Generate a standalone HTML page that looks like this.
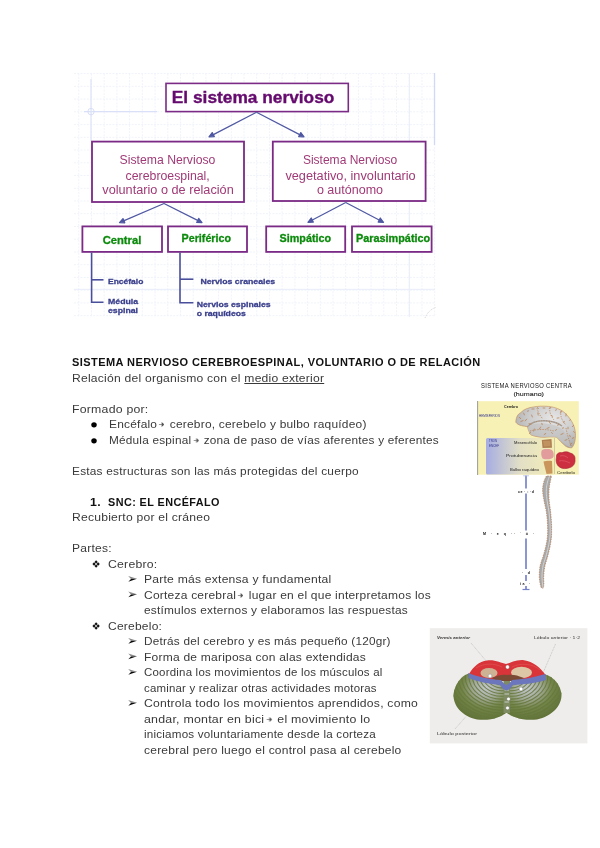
<!DOCTYPE html>
<html><head><meta charset="utf-8">
<style>
html,body{margin:0;padding:0;background:#fff;width:600px;height:848px;overflow:hidden;}
body{position:relative;font-family:"Liberation Sans",sans-serif;}
#diag{position:absolute;left:0;top:0;}
svg{will-change:transform;}
.txt{will-change:transform;position:absolute;left:0;top:355.2px;width:600px;color:#3a3a3a;font-size:11px;}
.ln{transform-origin:0 0;position:absolute;height:15.5px;line-height:15.5px;white-space:pre;}
.b{font-weight:bold;color:#111;}
.ar{display:inline-block;vertical-align:0px;margin-left:-1.5px;margin-right:1.5px;}
.u{text-decoration:underline;}
</style></head>
<body>
<svg id="diag" width="600" height="848" viewBox="0 0 600 848" font-family="Liberation Sans, sans-serif">
  <g id="grid" stroke="#f0f3fb" stroke-width="1" fill="none" stroke-dasharray="2 1.2">
<line x1="78.8" y1="73.6" x2="78.8" y2="317" />
<line x1="91.5" y1="73.6" x2="91.5" y2="317" />
<line x1="104.2" y1="73.6" x2="104.2" y2="317" />
<line x1="116.9" y1="73.6" x2="116.9" y2="317" />
<line x1="129.6" y1="73.6" x2="129.6" y2="317" />
<line x1="142.3" y1="73.6" x2="142.3" y2="317" />
<line x1="155.1" y1="73.6" x2="155.1" y2="317" />
<line x1="167.8" y1="73.6" x2="167.8" y2="317" />
<line x1="180.5" y1="73.6" x2="180.5" y2="317" />
<line x1="193.2" y1="73.6" x2="193.2" y2="317" />
<line x1="205.9" y1="73.6" x2="205.9" y2="317" />
<line x1="218.6" y1="73.6" x2="218.6" y2="317" />
<line x1="231.3" y1="73.6" x2="231.3" y2="317" />
<line x1="244.0" y1="73.6" x2="244.0" y2="317" />
<line x1="256.7" y1="73.6" x2="256.7" y2="317" />
<line x1="269.4" y1="73.6" x2="269.4" y2="317" />
<line x1="282.1" y1="73.6" x2="282.1" y2="317" />
<line x1="294.9" y1="73.6" x2="294.9" y2="317" />
<line x1="307.6" y1="73.6" x2="307.6" y2="317" />
<line x1="320.3" y1="73.6" x2="320.3" y2="317" />
<line x1="333.0" y1="73.6" x2="333.0" y2="317" />
<line x1="345.7" y1="73.6" x2="345.7" y2="317" />
<line x1="358.4" y1="73.6" x2="358.4" y2="317" />
<line x1="371.1" y1="73.6" x2="371.1" y2="317" />
<line x1="383.8" y1="73.6" x2="383.8" y2="317" />
<line x1="396.5" y1="73.6" x2="396.5" y2="317" />
<line x1="409.2" y1="73.6" x2="409.2" y2="317" />
<line x1="422.0" y1="73.6" x2="422.0" y2="317" />
<line x1="434.7" y1="73.6" x2="434.7" y2="317" />
<line x1="74" y1="73.6" x2="435" y2="73.6" />
<line x1="74" y1="86.3" x2="435" y2="86.3" />
<line x1="74" y1="99.1" x2="435" y2="99.1" />
<line x1="74" y1="111.8" x2="435" y2="111.8" />
<line x1="74" y1="124.6" x2="435" y2="124.6" />
<line x1="74" y1="137.3" x2="435" y2="137.3" />
<line x1="74" y1="150.0" x2="435" y2="150.0" />
<line x1="74" y1="162.8" x2="435" y2="162.8" />
<line x1="74" y1="175.5" x2="435" y2="175.5" />
<line x1="74" y1="188.3" x2="435" y2="188.3" />
<line x1="74" y1="201.0" x2="435" y2="201.0" />
<line x1="74" y1="213.7" x2="435" y2="213.7" />
<line x1="74" y1="226.5" x2="435" y2="226.5" />
<line x1="74" y1="239.2" x2="435" y2="239.2" />
<line x1="74" y1="252.0" x2="435" y2="252.0" />
<line x1="74" y1="264.7" x2="435" y2="264.7" />
<line x1="74" y1="277.4" x2="435" y2="277.4" />
<line x1="74" y1="290.2" x2="435" y2="290.2" />
<line x1="74" y1="302.9" x2="435" y2="302.9" />
<line x1="74" y1="315.7" x2="435" y2="315.7" />
  </g>
  <!-- guides -->
  <line x1="84" y1="111.6" x2="157" y2="111.6" stroke="#d9e0f7" stroke-width="1.2"/>
  <line x1="91" y1="79" x2="91" y2="141" stroke="#dde3f7" stroke-width="1.2"/>
  <circle cx="91" cy="111.6" r="3.2" fill="none" stroke="#d6ddf5" stroke-width="1"/>
  <line x1="434.5" y1="73" x2="434.5" y2="145" stroke="#d2d9f8" stroke-width="1.3"/>

  <path d="M425 318 C427 313 431 309 435.5 307.5" stroke="#d6d6d6" stroke-width="0.9" fill="none" stroke-dasharray="1.2 0.8"/>
  <line x1="409.3" y1="73.6" x2="409.3" y2="317" stroke="#e9edfa" stroke-width="1"/>
  <line x1="74" y1="289.3" x2="435" y2="289.3" stroke="#e9edfa" stroke-width="1"/>
  <!-- title box -->
  <rect x="166" y="83.4" width="182.3" height="28.2" fill="#fff" stroke="#7b2a86" stroke-width="1.6"/>
  <text x="171.8" y="103.3" font-size="16.8" font-weight="bold" fill="#650a6e" stroke="#650a6e" stroke-width="0.35" textLength="162.6" lengthAdjust="spacingAndGlyphs">El sistema nervioso</text>

  <!-- arrows from title -->
  <g stroke="#4f58a2" stroke-width="1.25" fill="#4f58a2" stroke-linejoin="round">
    <line x1="256.5" y1="112.2" x2="212.4" y2="135.1"/>
    <polygon points="209.0,136.8 212.2,132.6 214.3,136.6"/>
    <line x1="256.5" y1="112.2" x2="300.6" y2="135.1"/>
    <polygon points="304.0,136.8 298.7,136.6 300.8,132.6"/>
  </g>

  <!-- level 2 boxes -->
  <rect x="92" y="141.6" width="152" height="60.4" fill="#fff" stroke="#7b2a86" stroke-width="1.8"/>
  <rect x="272.8" y="141.6" width="152.8" height="59.4" fill="#fff" stroke="#7b2a86" stroke-width="1.8"/>
  <g font-size="12" fill="#a03a76">
    <text x="119.6" y="164" textLength="95.8" lengthAdjust="spacingAndGlyphs">Sistema Nervioso</text>
    <text x="125.6" y="179.6" textLength="84.2" lengthAdjust="spacingAndGlyphs">cerebroespinal,</text>
    <text x="102.3" y="193.6" textLength="131.4" lengthAdjust="spacingAndGlyphs">voluntario o de relación</text>
    <text x="302.9" y="164.3" textLength="94.2" lengthAdjust="spacingAndGlyphs">Sistema Nervioso</text>
    <text x="285.4" y="179.5" textLength="130.3" lengthAdjust="spacingAndGlyphs">vegetativo, involuntario</text>
    <text x="316.9" y="193.5" textLength="66.2" lengthAdjust="spacingAndGlyphs">o autónomo</text>
  </g>

  <!-- arrows level 2 -> 3 -->
  <g stroke="#4f58a2" stroke-width="1.25" fill="#4f58a2" stroke-linejoin="round">
    <line x1="164" y1="203.5" x2="123.0" y2="221.1"/>
    <polygon points="119.5,222.6 123.0,218.6 124.8,222.8"/>
    <line x1="164" y1="203.5" x2="198.6" y2="220.9"/>
    <polygon points="202.0,222.6 196.7,222.5 198.7,218.4"/>
    <line x1="345.7" y1="202.5" x2="311.4" y2="220.5"/>
    <polygon points="308.0,222.3 311.2,218.0 313.3,222.1"/>
    <line x1="345.7" y1="202.5" x2="380.1" y2="220.5"/>
    <polygon points="383.5,222.3 378.2,222.1 380.3,218.0"/>
  </g>

  <!-- level 3 boxes -->
  <g fill="#fff" stroke="#7b2a86" stroke-width="1.8">
    <rect x="82.4" y="226.4" width="79.6" height="25.5"/>
    <rect x="168" y="226.4" width="79" height="25.5"/>
    <rect x="266.2" y="226.4" width="79" height="25.5"/>
    <rect x="352" y="226.4" width="79.6" height="25.5"/>
  </g>
  <g font-size="11" font-weight="bold" fill="#0c8a0c" stroke="#0c8a0c" stroke-width="0.3">
    <text x="102.7" y="244" textLength="38.6" lengthAdjust="spacingAndGlyphs">Central</text>
    <text x="181.6" y="242" textLength="49.4" lengthAdjust="spacingAndGlyphs">Periférico</text>
    <text x="279.5" y="242.2" textLength="51.6" lengthAdjust="spacingAndGlyphs">Simpático</text>
    <text x="356" y="242.2" textLength="74.2" lengthAdjust="spacingAndGlyphs">Parasimpático</text>
  </g>

  <!-- tree lines -->
  <g stroke="#4a4f9c" stroke-width="1.6" fill="none">
    <polyline points="91.6,252.5 91.6,302.2 103.5,302.2"/>
    <line x1="91.6" y1="279.8" x2="103.5" y2="279.8"/>
    <polyline points="180,252.5 180,302.7 193.4,302.7"/>
    <line x1="180" y1="279.2" x2="193.4" y2="279.2"/>
  </g>
  <g font-size="8.1" font-weight="bold" fill="#3a3f8c" stroke="#3a3f8c" stroke-width="0.3">
    <text x="108" y="284" textLength="35.4" lengthAdjust="spacingAndGlyphs">Encéfalo</text>
    <text x="108" y="303.8" textLength="30.1" lengthAdjust="spacingAndGlyphs">Médula</text>
    <text x="108" y="313.2" textLength="30" lengthAdjust="spacingAndGlyphs">espinal</text>
    <text x="200.4" y="284.3" textLength="74.8" lengthAdjust="spacingAndGlyphs">Nervios craneales</text>
    <text x="196.7" y="306.7" textLength="74" lengthAdjust="spacingAndGlyphs">Nervios espinales</text>
    <text x="196.7" y="315.9" textLength="49.2" lengthAdjust="spacingAndGlyphs">o raquídeos</text>
  </g>
</svg>
<svg id="icons" width="600" height="848" style="position:absolute;left:0;top:0">
  <g fill="#000">
    <ellipse cx="94" cy="424.8" rx="2.75" ry="2.6"/>
    <ellipse cx="94" cy="440.8" rx="2.75" ry="2.6"/>
  </g>
  <!-- diamonds -->
  <g fill="#111" id="dia1">
    <path d="M96.10 560.30 L97.75 561.95 L96.10 563.60 L94.45 561.95 Z M96.10 564.40 L97.75 566.05 L96.10 567.70 L94.45 566.05 Z M94.05 562.35 L95.70 564.00 L94.05 565.65 L92.40 564.00 Z M98.15 562.35 L99.80 564.00 L98.15 565.65 L96.50 564.00 Z"/>
  </g>
  <g fill="#111" transform="translate(0,62)">
    <path d="M96.10 560.30 L97.75 561.95 L96.10 563.60 L94.45 561.95 Z M96.10 564.40 L97.75 566.05 L96.10 567.70 L94.45 566.05 Z M94.05 562.35 L95.70 564.00 L94.05 565.65 L92.40 564.00 Z M98.15 562.35 L99.80 564.00 L98.15 565.65 L96.50 564.00 Z"/>
  </g>
  <!-- arrowheads -->
  <g transform="translate(0,0)">
      <path d="M128.2 576.1 L137 578.8 L131 579.1 Z" fill="#8a8a8a"/>
      <path d="M131 579.1 L137 578.8 L128.3 581.8 Z" fill="#0a0a0a"/>
  </g>
  <g transform="translate(0,15.5)">
      <path d="M128.2 576.1 L137 578.8 L131 579.1 Z" fill="#8a8a8a"/>
      <path d="M131 579.1 L137 578.8 L128.3 581.8 Z" fill="#0a0a0a"/>
  </g>
  <g transform="translate(0,62)">
      <path d="M128.2 576.1 L137 578.8 L131 579.1 Z" fill="#8a8a8a"/>
      <path d="M131 579.1 L137 578.8 L128.3 581.8 Z" fill="#0a0a0a"/>
  </g>
  <g transform="translate(0,77.5)">
      <path d="M128.2 576.1 L137 578.8 L131 579.1 Z" fill="#8a8a8a"/>
      <path d="M131 579.1 L137 578.8 L128.3 581.8 Z" fill="#0a0a0a"/>
  </g>
  <g transform="translate(0,93)">
      <path d="M128.2 576.1 L137 578.8 L131 579.1 Z" fill="#8a8a8a"/>
      <path d="M131 579.1 L137 578.8 L128.3 581.8 Z" fill="#0a0a0a"/>
  </g>
  <g transform="translate(0,124)">
      <path d="M128.2 576.1 L137 578.8 L131 579.1 Z" fill="#8a8a8a"/>
      <path d="M131 579.1 L137 578.8 L128.3 581.8 Z" fill="#0a0a0a"/>
  </g>
</svg>
<svg id="cns" width="600" height="848" style="position:absolute;left:0;top:0" font-family="Liberation Sans, sans-serif">
  <defs>
    <linearGradient id="gblue" x1="0" y1="0" x2="1" y2="0">
      <stop offset="0" stop-color="#a6ade2"/>
      <stop offset="0.5" stop-color="#e2dfc6"/>
      <stop offset="1" stop-color="#f4eeb6"/>
    </linearGradient>
    <radialGradient id="ggray" cx="0.62" cy="0.3" r="0.75">
      <stop offset="0" stop-color="#e6e6e6"/>
      <stop offset="0.55" stop-color="#cbcbcb"/>
      <stop offset="1" stop-color="#a9a9a9"/>
    </radialGradient>
  </defs>
  <text x="481" y="387.8" font-size="7" fill="#151515" textLength="91" lengthAdjust="spacingAndGlyphs" letter-spacing="0.4">SISTEMA  NERVIOSO  CENTRA</text>
  <text x="513.5" y="396.2" font-size="6.2" fill="#222" stroke="#222" stroke-width="0.1" textLength="30.5" lengthAdjust="spacingAndGlyphs">(humano)</text>
  <rect x="477.8" y="401.2" width="101" height="73.5" fill="#f8f1b6"/>
  <line x1="477.6" y1="401" x2="477.6" y2="475" stroke="#555" stroke-width="0.6"/>
  <rect x="486" y="438" width="68.5" height="36.5" rx="1.5" fill="url(#gblue)"/>
  <line x1="554.5" y1="438" x2="554.5" y2="474" stroke="#b8b28a" stroke-width="0.6"/>
  <!-- brain -->
  <path d="M515.8 422.2 C516 417 518 414 520.5 412.8 C524 409 529 407.5 533.3 407 C538 406 543 406 548.5 406.4 C555 407 561 409.5 564.8 412.8 C569 417 572.5 421.5 574.2 426.8 C575.5 431 575.8 435 575.3 438.5 C575 442 574 445.5 571.8 447.8 C569 448 566.5 447 564.8 445.5 C562 443 559 440 556.7 437.3 C553 436.5 549 437 545 437.3 C540 437.5 535 436.5 531 435 C529 432 528 429.5 527.5 426.8 C525.5 426.3 523.5 426 521.7 425.7 C519 425 517 424 515.8 422.2 Z" fill="url(#ggray)" stroke="#c08a5a" stroke-width="0.6"/>
  <path d="M527.5 426.8 C531 422.5 537 420.5 545 420.8 C552 421 558 423 562 426" stroke="#a8a8a8" stroke-width="1.4" fill="none"/>
  <path d="M527.5 426.8 C531 424 537 423 545 423.5 C552 424 558 426 562 429 C566 433 569 440 571.8 447.8 C566 446 560 440 556.7 437.3 C549 437 540 437.5 531 435 C529 432 528 429.5 527.5 426.8 Z" fill="#c2c2c2" opacity="0.6"/>
  <g stroke="#b97a48" stroke-width="0.8" fill="none" stroke-linecap="round" opacity="0.9">
    <line x1="519.3" y1="417.4" x2="520.7" y2="418.6"/>
    <line x1="523.6" y1="413.1" x2="524.4" y2="414.9"/>
    <line x1="528.2" y1="410.4" x2="527.8" y2="411.6"/>
    <line x1="531.9" y1="409.0" x2="534.1" y2="409.0"/>
    <line x1="537.5" y1="407.5" x2="538.5" y2="408.5"/>
    <line x1="544.9" y1="408.0" x2="543.1" y2="408.0"/>
    <line x1="550.8" y1="407.6" x2="549.2" y2="408.4"/>
    <line x1="556.3" y1="409.4" x2="555.7" y2="410.6"/>
    <line x1="561.5" y1="411.0" x2="560.5" y2="413.0"/>
    <line x1="566.1" y1="414.0" x2="565.9" y2="416.0"/>
    <line x1="570.3" y1="419.5" x2="569.7" y2="420.5"/>
    <line x1="573.7" y1="425.3" x2="572.3" y2="426.7"/>
    <line x1="573.6" y1="431.5" x2="574.4" y2="432.5"/>
    <line x1="573.8" y1="437.6" x2="572.2" y2="438.4"/>
    <line x1="571.7" y1="443.1" x2="570.3" y2="444.9"/>
    <line x1="526.7" y1="419.1" x2="525.3" y2="420.9"/>
    <line x1="531.6" y1="415.0" x2="532.4" y2="417.0"/>
    <line x1="537.8" y1="412.9" x2="538.2" y2="415.1"/>
    <line x1="546.6" y1="412.8" x2="545.4" y2="413.2"/>
    <line x1="551.3" y1="415.7" x2="552.7" y2="416.3"/>
    <line x1="558.9" y1="417.9" x2="557.1" y2="418.1"/>
    <line x1="564.3" y1="421.3" x2="563.7" y2="422.7"/>
    <line x1="568.0" y1="427.2" x2="568.0" y2="428.8"/>
    <line x1="569.6" y1="435.2" x2="570.4" y2="436.8"/>
    <line x1="534.3" y1="428.9" x2="533.7" y2="431.1"/>
    <line x1="540.6" y1="427.0" x2="539.4" y2="429.0"/>
    <line x1="549.1" y1="427.5" x2="546.9" y2="428.5"/>
    <line x1="556.4" y1="429.4" x2="555.6" y2="430.6"/>
    <line x1="563.1" y1="433.5" x2="560.9" y2="434.5"/>
    <line x1="566.9" y1="439.7" x2="565.1" y2="440.3"/>
    <line x1="530.5" y1="432.4" x2="529.5" y2="433.6"/>
    <line x1="545.8" y1="433.5" x2="544.2" y2="434.5"/>
    <line x1="551.6" y1="432.5" x2="552.4" y2="433.5"/>
    <line x1="523.1" y1="420.5" x2="520.9" y2="421.5"/>
    <line x1="529.0" y1="423.7" x2="531.0" y2="424.3"/>
    <line x1="541.8" y1="423.3" x2="542.2" y2="424.7"/>
    <line x1="549.4" y1="422.2" x2="550.6" y2="423.8"/>
    <line x1="558.6" y1="424.8" x2="557.4" y2="425.2"/>
    <line x1="563.2" y1="427.4" x2="562.8" y2="428.6"/>
  </g>
  <g stroke="#b97a48" stroke-width="0.75" fill="none" stroke-dasharray="1.4 1.1" opacity="0.85">
    <path d="M527.5 426.8 C531 422.5 537 420.5 545 420.8 C552 421 558 423 562 426"/>
    <path d="M530 431 C537 429 546 429 554 431"/>
    <path d="M537 408 C538 412 540 416 543 419"/>
    <path d="M550 407.5 C549 412 551 416 554 420"/>
    <path d="M561 411 C560 416 562 421 566 425"/>
    <path d="M566 428 C567 434 569 440 571 446"/>
  </g>
  <!-- brainstem blocks -->
  <path d="M541.8 440 L551.5 439 L552 447.8 L542.5 448 Z" fill="#b08052"/>
  <path d="M543 441 L550 441 L550.5 446 L544 446.5 Z" fill="#c89a66" opacity="0.7"/>
  <path d="M541.5 451 C542 449 547 448.5 551 449.5 C553.5 450.5 554 454 553.5 457 C552 459.5 546 460 542.5 458.5 C541 456 541 453 541.5 451 Z" fill="#e29c9c"/>
  <path d="M543.5 461.5 C546 460.5 550 460.5 552 461 L552.5 473.5 L546.5 474 C545.5 469 544 465 543.5 461.5 Z" fill="#c9955a"/>
  <path d="M556.5 457 C556 454 559 452 562 452.8 C564 451.5 568 451.5 570 453 C573 453.5 575.5 456 575 459.5 C575.5 463 573.5 466.5 570 467.5 C567 469 562 469 559.5 467 C556.5 465 555.5 461 556.5 457 Z" fill="#cc3040" stroke="#a82030" stroke-width="0.6"/>
  <path d="M560 456 C563 455 566 456 568 458 M559 461 C562 460 566 461 570 463" stroke="#e66070" stroke-width="0.6" fill="none"/>
  <g fill="#1a1a1a" font-size="3.4">
    <text x="504" y="408" textLength="14" lengthAdjust="spacingAndGlyphs" font-weight="bold">Cerebro</text>
    <text x="514" y="444" textLength="23" lengthAdjust="spacingAndGlyphs">Mesencéfalo</text>
    <text x="506" y="456.5" textLength="31" lengthAdjust="spacingAndGlyphs">Protuberancia</text>
    <text x="510" y="470.5" textLength="29" lengthAdjust="spacingAndGlyphs">Bulbo raquídeo</text>
    <text x="557" y="473.8" textLength="18" lengthAdjust="spacingAndGlyphs">Cerebelo</text>
  </g>
  <g fill="#2a2f8a" font-size="3.4">
    <text x="479" y="417.3" textLength="21" lengthAdjust="spacingAndGlyphs">HEMISFERIOS</text>
    <text x="489" y="442.3" textLength="8" lengthAdjust="spacingAndGlyphs">TRON</text>
    <text x="489" y="446.5" textLength="10" lengthAdjust="spacingAndGlyphs">ENCEF</text>
  </g>
  <!-- spinal column line -->
  <line x1="526" y1="475.5" x2="526" y2="589.5" stroke="#8c96d2" stroke-width="2"/>
  <line x1="523" y1="475.8" x2="529" y2="475.8" stroke="#b8bfe6" stroke-width="0.8"/>
  <line x1="522.5" y1="589.5" x2="529.5" y2="589.5" stroke="#7480c8" stroke-width="1.2"/>
  <g fill="#fff">
    <rect x="524" y="488.5" width="4" height="5"/>
    <rect x="524" y="530.5" width="4" height="8"/>
    <rect x="524" y="569" width="4" height="6"/>
    <rect x="524" y="581" width="4" height="5"/>
  </g>
  <g fill="#111" font-size="3.6" font-weight="bold">
    <text x="518" y="492.5" textLength="16" lengthAdjust="spacing">ce  · : ·d</text>
    <text x="483" y="535" textLength="51" lengthAdjust="spacing">M  ·  e  q  ··   ´  ó  ·</text>
    <text x="522" y="573.5" textLength="8" lengthAdjust="spacing">· d</text>
    <text x="520" y="585" textLength="10" lengthAdjust="spacing">ia  ·</text>
  </g>
  <!-- spinal cord -->
  <path d="M546.4 476.0 L546.1 476.6 L545.7 477.5 L545.2 478.5 L544.7 479.6 L544.2 480.8 L543.8 482.0 L543.5 483.2 L543.2 484.4 L543.0 485.8 L542.8 487.1 L542.6 488.5 L542.6 490.0 L542.7 491.5 L542.8 493.1 L543.0 494.8 L543.3 496.4 L543.6 498.2 L543.9 500.0 L544.3 501.9 L544.7 503.9 L545.2 505.9 L545.6 507.9 L546.1 510.0 L546.4 512.0 L546.7 514.0 L546.9 516.0 L547.1 518.0 L547.3 520.0 L547.4 522.0 L547.5 524.0 L547.6 526.0 L547.6 528.1 L547.7 530.1 L547.7 532.1 L547.6 534.1 L547.5 536.0 L547.3 537.8 L547.1 539.5 L546.9 541.1 L546.6 542.7 L546.2 544.4 L545.9 546.0 L545.5 547.7 L545.1 549.3 L544.6 551.0 L544.2 552.7 L543.7 554.3 L543.2 556.0 L542.7 557.7 L542.1 559.3 L541.5 561.0 L541.0 562.7 L540.5 564.3 L540.1 566.0 L539.8 567.7 L539.6 569.4 L539.5 571.1 L539.4 572.8 L539.3 574.4 L539.3 576.0 L539.3 577.5 L539.5 579.0 L539.6 580.4 L539.8 581.7 L540.0 582.9 L540.2 584.0 L540.4 584.9 L540.6 585.8 L540.8 586.5 L541.0 587.1 L541.2 587.6 L541.3 588.0 L543.3 588.0 L543.4 587.6 L543.5 587.1 L543.6 586.5 L543.7 585.8 L543.7 584.9 L543.8 584.0 L543.8 582.9 L543.8 581.7 L543.7 580.4 L543.7 579.0 L543.6 577.5 L543.7 576.0 L543.8 574.4 L543.9 572.8 L544.1 571.1 L544.3 569.4 L544.6 567.7 L544.9 566.0 L545.3 564.3 L545.8 562.7 L546.3 561.0 L546.8 559.3 L547.3 557.7 L547.8 556.0 L548.2 554.3 L548.6 552.7 L549.0 551.0 L549.4 549.3 L549.8 547.7 L550.1 546.0 L550.4 544.4 L550.7 542.7 L550.9 541.1 L551.2 539.5 L551.4 537.8 L551.5 536.0 L551.6 534.1 L551.6 532.1 L551.6 530.1 L551.6 528.1 L551.6 526.0 L551.5 524.0 L551.4 522.0 L551.3 520.0 L551.1 518.0 L551.0 516.0 L550.8 514.0 L550.6 512.0 L550.4 510.0 L550.1 507.9 L549.8 505.9 L549.5 503.9 L549.3 501.9 L549.1 500.0 L549.0 498.2 L548.9 496.4 L548.9 494.8 L548.9 493.1 L548.9 491.5 L549.0 490.0 L549.1 488.5 L549.3 487.1 L549.5 485.8 L549.7 484.4 L550.0 483.2 L550.2 482.0 L550.4 480.8 L550.7 479.6 L551.0 478.5 L551.2 477.5 L551.4 476.6 L551.6 476.0 Z" fill="#a9a9a9" stroke="#b5774a" stroke-width="0.7" stroke-dasharray="1.5 1"/>
  <path d="M549.5 476.0 L549.3 476.6 L549.0 477.5 L548.6 478.5 L548.2 479.6 L547.8 480.8 L547.5 482.0 L547.2 483.2 L547.0 484.4 L546.7 485.8 L546.5 487.1 L546.4 488.5 L546.3 490.0 L546.3 491.5 L546.3 493.1 L546.4 494.8 L546.6 496.4 L546.8 498.2 L547.0 500.0 L547.3 501.9 L547.6 503.9 L548.0 505.9 L548.4 507.9 L548.7 510.0 L549.0 512.0 L549.2 514.0 L549.4 516.0 L549.6 518.0 L549.8 520.0 L549.9 522.0 L550.0 524.0 L550.1 526.0 L550.1 528.1 L550.2 530.1 L550.1 532.1 L550.1 534.1 L550.0 536.0 L549.8 537.8 L549.6 539.5 L549.4 541.1 L549.1 542.7 L548.8 544.4 L548.5 546.0 L548.1 547.7 L547.8 549.3 L547.3 551.0 L546.9 552.7 L546.5 554.3 L546.0 556.0 L545.5 557.7 L545.0 559.3 L544.4 561.0 L543.9 562.7 L543.4 564.3 L543.0 566.0 L542.7 567.7 L542.5 569.4 L542.3 571.1 L542.1 572.8 L542.1 574.4 L542.0 576.0 L542.0 577.5 L542.1 579.0 L542.2 580.4 L542.3 581.7 L542.4 582.9 L542.5 584.0 L542.6 584.9 L542.6 585.8 L542.7 586.5 L542.7 587.1 L542.8 587.6 L542.8 588.0" stroke="#d2d2d2" stroke-width="1" fill="none"/>
</svg>
<svg id="cbl" width="600" height="848" style="position:absolute;left:0;top:0" font-family="Liberation Sans, sans-serif">
  <defs>
    <radialGradient id="gl" cx="0.62" cy="0.3" r="0.75">
      <stop offset="0" stop-color="#c2c6cc"/>
      <stop offset="0.3" stop-color="#a6ad9e"/>
      <stop offset="0.6" stop-color="#74854a"/>
      <stop offset="1" stop-color="#5e7035"/>
    </radialGradient>
    <radialGradient id="gr" cx="0.38" cy="0.3" r="0.75">
      <stop offset="0" stop-color="#c2c6cc"/>
      <stop offset="0.3" stop-color="#a6ad9e"/>
      <stop offset="0.6" stop-color="#74854a"/>
      <stop offset="1" stop-color="#5e7035"/>
    </radialGradient>
    <clipPath id="cl"><path d="M506.5 686 C495 682 480 678 468.5 673.5 C461 676 455 684 453.5 694 C453 706 462 716 477 719.5 C492 721 501 717 506.5 712.5 Z"/></clipPath>
    <clipPath id="cr"><path d="M506.5 686 C518 682 533 679 545.5 674.5 C554 677 560.5 685 561.5 694 C562 706 552 716 537 719.5 C522 721 512 717 506.5 712.5 Z"/></clipPath>
  </defs>
  <rect x="429.8" y="628.2" width="157.6" height="115.2" fill="#eeedeb"/>
  <!-- leader lines -->
  <g stroke="#9a9a9a" stroke-width="0.45" fill="none" stroke-dasharray="1 0.7">
    <line x1="471" y1="643" x2="487" y2="662"/>
    <line x1="555.5" y1="644" x2="543" y2="673"/>
    <line x1="465.8" y1="716.7" x2="455" y2="729"/>
  </g>
  <!-- green lobes -->
  <path d="M506.5 686 C495 682 480 678 468.5 673.5 C461 676 455 684 453.5 694 C453 706 462 716 477 719.5 C492 721 501 717 506.5 712.5 Z" fill="url(#gl)"/>
  <path d="M506.5 686 C518 682 533 679 545.5 674.5 C554 677 560.5 685 561.5 694 C562 706 552 716 537 719.5 C522 721 512 717 506.5 712.5 Z" fill="url(#gr)"/>
  <g clip-path="url(#cl)" stroke="#66783c" stroke-width="1.1" fill="none" opacity="0.85">
    <ellipse cx="502" cy="676" rx="8.0" ry="6.2"/>
    <ellipse cx="502" cy="676" rx="11.6" ry="9.0"/>
    <ellipse cx="502" cy="676" rx="15.2" ry="11.9"/>
    <ellipse cx="502" cy="676" rx="18.8" ry="14.7"/>
    <ellipse cx="502" cy="676" rx="22.4" ry="17.5"/>
    <ellipse cx="502" cy="676" rx="26.0" ry="20.3"/>
    <ellipse cx="502" cy="676" rx="29.6" ry="23.1"/>
    <ellipse cx="502" cy="676" rx="33.2" ry="25.9"/>
    <ellipse cx="502" cy="676" rx="36.8" ry="28.7"/>
    <ellipse cx="502" cy="676" rx="40.4" ry="31.5"/>
    <ellipse cx="502" cy="676" rx="44.0" ry="34.3"/>
    <ellipse cx="502" cy="676" rx="47.6" ry="37.1"/>
    <ellipse cx="502" cy="676" rx="51.2" ry="39.9"/>
    <ellipse cx="502" cy="676" rx="54.8" ry="42.7"/>
  </g>
  <g clip-path="url(#cr)" stroke="#66783c" stroke-width="1.1" fill="none" opacity="0.85">
    <ellipse cx="511" cy="676" rx="8.0" ry="6.2"/>
    <ellipse cx="511" cy="676" rx="11.6" ry="9.0"/>
    <ellipse cx="511" cy="676" rx="15.2" ry="11.9"/>
    <ellipse cx="511" cy="676" rx="18.8" ry="14.7"/>
    <ellipse cx="511" cy="676" rx="22.4" ry="17.5"/>
    <ellipse cx="511" cy="676" rx="26.0" ry="20.3"/>
    <ellipse cx="511" cy="676" rx="29.6" ry="23.1"/>
    <ellipse cx="511" cy="676" rx="33.2" ry="25.9"/>
    <ellipse cx="511" cy="676" rx="36.8" ry="28.7"/>
    <ellipse cx="511" cy="676" rx="40.4" ry="31.5"/>
    <ellipse cx="511" cy="676" rx="44.0" ry="34.3"/>
    <ellipse cx="511" cy="676" rx="47.6" ry="37.1"/>
    <ellipse cx="511" cy="676" rx="51.2" ry="39.9"/>
    <ellipse cx="511" cy="676" rx="54.8" ry="42.7"/>
  </g>
  <!-- vermis column -->
  <rect x="503.5" y="678" width="6.5" height="35" fill="#7f8c62"/>
  <g stroke="#d6d8dc" stroke-width="0.8">
    <line x1="504.5" y1="686" x2="509" y2="686"/>
    <line x1="504.5" y1="690" x2="509" y2="690"/>
    <line x1="504.5" y1="694" x2="509" y2="694"/>
    <line x1="504.5" y1="702" x2="509" y2="702"/>
  </g>
  <!-- red -->
  <path d="M469 674 C473 667 479 661.5 487 660.5 C495 659.5 501 663 506 664 C511 663 516 659.5 524 660.2 C533 661.5 540 667 546 675.5 C532 680 518 681 507 681 C494 681 481 679 469 674 Z" fill="#d8343a"/>
  <g stroke="#e86a60" stroke-width="0.6" fill="none" opacity="0.7">
    <path d="M476 668 C484 663 494 663 502 667"/>
    <path d="M512 667 C520 663 532 663 540 670"/>
  </g>
  <!-- beige blobs -->
  <ellipse cx="489" cy="673" rx="8.5" ry="5" fill="#cdb393"/>
  <ellipse cx="521.5" cy="672.5" rx="10.5" ry="5.8" fill="#dcc6a6"/>
  <path d="M492 678 C498 675 503 674 507 675 C512 674 517 675 524 678 L518 681 L497 681 Z" fill="#7a4a34"/>
  <!-- blue band -->
  <path d="M468.5 673 C478 677 490 679.5 501 680 C503 682 504 684 506.5 685 C509 684 510.5 682 512 680 C522 679.5 534 677.5 545.5 674 L546 680 C534 683.5 522 684.5 513 685 C511 688 509 690 506.5 690.5 C504 690 502 688 500 685 C490 684 479 682 468.5 678 Z" fill="#6c76bc"/>
  <!-- numbers -->
  <g fill="#fff" stroke="#666" stroke-width="0.35">
    <circle cx="507.5" cy="667" r="1.9"/>
    <circle cx="490" cy="676" r="1.9"/>
    <circle cx="521" cy="689" r="1.9"/>
    <circle cx="508.5" cy="699" r="1.8"/>
    <circle cx="507.5" cy="708" r="1.8"/>
  </g>
  <g fill="#333" font-size="3.8">
    <text x="437" y="638.5" font-style="italic" font-weight="bold" textLength="33" lengthAdjust="spacingAndGlyphs">Vermis anterior</text>
    <text x="534" y="638.5" textLength="46" lengthAdjust="spacingAndGlyphs">Lóbulo   anterior  ·  1·2</text>
    <text x="437" y="734.5" textLength="40" lengthAdjust="spacingAndGlyphs">Lóbulo posterior</text>
  </g>
</svg>
<div class="txt" id="txt">
<div class="ln b" id="l0" style="left:71.8px;top:0.0px;letter-spacing:0.440px;transform:scaleX(0.9996)">SISTEMA NERVIOSO CEREBROESPINAL, VOLUNTARIO O DE RELACIÓN</div>
<div class="ln" id="l1" style="left:72.2px;top:15.5px;letter-spacing:0.200px;transform:scaleX(1.1017)">Relación del organismo con el <span class="u">medio exterior</span></div>
<div class="ln" id="l3" style="left:72.2px;top:46.5px;letter-spacing:0.200px;transform:scaleX(1.1180)">Formado por:</div>
<div class="ln" id="l4" style="left:108.6px;top:62.0px;letter-spacing:0.200px;transform:scaleX(1.0859)">Encéfalo <svg class="ar" width="5" height="7" viewBox="0 0 5 7"><path d="M0 3.5H2.6" stroke="#999" stroke-width="1.2"/><path d="M2.4 0.9 Q4.5 2.7 4.7 3.5 Q4.5 4.3 2.4 6.1 Z" fill="#555"/></svg> cerebro, cerebelo y bulbo raquídeo)</div>
<div class="ln" id="l5" style="left:108.6px;top:77.5px;letter-spacing:0.200px;transform:scaleX(1.0722)">Médula espinal <svg class="ar" width="5" height="7" viewBox="0 0 5 7"><path d="M0 3.5H2.6" stroke="#999" stroke-width="1.2"/><path d="M2.4 0.9 Q4.5 2.7 4.7 3.5 Q4.5 4.3 2.4 6.1 Z" fill="#555"/></svg> zona de paso de vías aferentes y eferentes</div>
<div class="ln" id="l7" style="left:72.2px;top:108.5px;letter-spacing:0.200px;transform:scaleX(1.0791)">Estas estructuras son las más protegidas del cuerpo</div>
<div class="ln b" id="l9" style="left:89.5px;top:139.5px;letter-spacing:0.300px;transform:scaleX(1.1200)">1.</div>
<div class="ln b" id="l109" style="left:108.2px;top:139.5px;letter-spacing:0.440px;transform:scaleX(0.9838)">SNC: EL ENCÉFALO</div>
<div class="ln" id="l10" style="left:72.2px;top:155.0px;letter-spacing:0.200px;transform:scaleX(1.1034)">Recubierto por el cráneo</div>
<div class="ln" id="l12" style="left:72.2px;top:186.0px;letter-spacing:0.200px;transform:scaleX(1.0955)">Partes:</div>
<div class="ln" id="l13" style="left:107.8px;top:201.5px;letter-spacing:0.200px;transform:scaleX(1.1148)">Cerebro:</div>
<div class="ln" id="l14" style="left:144.2px;top:217.0px;letter-spacing:0.200px;transform:scaleX(1.1019)">Parte más extensa y fundamental</div>
<div class="ln" id="l15" style="left:144.2px;top:232.5px;letter-spacing:0.200px;transform:scaleX(1.0916)">Corteza cerebral <svg class="ar" width="5" height="7" viewBox="0 0 5 7"><path d="M0 3.5H2.6" stroke="#999" stroke-width="1.2"/><path d="M2.4 0.9 Q4.5 2.7 4.7 3.5 Q4.5 4.3 2.4 6.1 Z" fill="#555"/></svg> lugar en el que interpretamos los</div>
<div class="ln" id="l16" style="left:144.2px;top:248.0px;letter-spacing:0.200px;transform:scaleX(1.0794)">estímulos externos y elaboramos las respuestas</div>
<div class="ln" id="l17" style="left:107.8px;top:263.5px;letter-spacing:0.200px;transform:scaleX(1.0930)">Cerebelo:</div>
<div class="ln" id="l18" style="left:144.2px;top:279.0px;letter-spacing:0.200px;transform:scaleX(1.0700)">Detrás del cerebro y es más pequeño (120gr)</div>
<div class="ln" id="l19" style="left:144.2px;top:294.5px;letter-spacing:0.200px;transform:scaleX(1.0933)">Forma de mariposa con alas extendidas</div>
<div class="ln" id="l20" style="left:144.2px;top:310.0px;letter-spacing:0.200px;transform:scaleX(1.0429)">Coordina los movimientos de los músculos al</div>
<div class="ln" id="l21" style="left:144.2px;top:325.5px;letter-spacing:0.200px;transform:scaleX(1.0393)">caminar y realizar otras actividades motoras</div>
<div class="ln" id="l22" style="left:144.2px;top:341.0px;letter-spacing:0.200px;transform:scaleX(1.1064)">Controla todo los movimientos aprendidos, como</div>
<div class="ln" id="l23" style="left:144.2px;top:356.5px;letter-spacing:0.200px;transform:scaleX(1.1252)">andar, montar en bici <svg class="ar" width="5" height="7" viewBox="0 0 5 7"><path d="M0 3.5H2.6" stroke="#999" stroke-width="1.2"/><path d="M2.4 0.9 Q4.5 2.7 4.7 3.5 Q4.5 4.3 2.4 6.1 Z" fill="#555"/></svg> el movimiento lo</div>
<div class="ln" id="l24" style="left:144.2px;top:372.0px;letter-spacing:0.200px;transform:scaleX(1.0577)">iniciamos voluntariamente desde la corteza</div>
<div class="ln" id="l25" style="left:144.2px;top:387.5px;letter-spacing:0.200px;transform:scaleX(1.0927)">cerebral pero luego el control pasa al cerebelo</div>
</div>
</body></html>
